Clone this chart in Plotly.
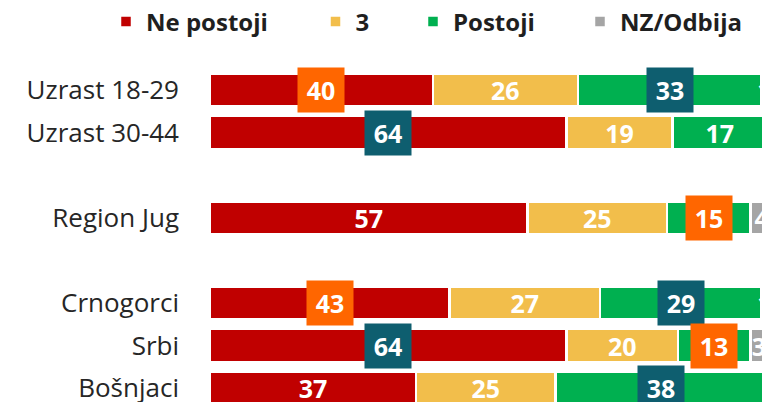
import plotly.graph_objects as go

# ---- data ----
categories = ["Uzrast 18-29", "Uzrast 30-44", "Region Jug", "Crnogorci", "Srbi", "Bošnjaci"]
row_order = ["Uzrast 18-29", "Uzrast 30-44", " ", "Region Jug", "  ", "Crnogorci", "Srbi", "Bošnjaci"]
series_names = ["Ne postoji", "3", "Postoji", "NZ/Odbija"]
ne_postoji = [40, 64, 57, 43, 64, 37]
tri = [26, 19, 25, 27, 20, 25]
postoji = [33, 17, 15, 29, 13, 38]
nz_odbija = [1, 1, 4, 1, 3, 0]

# highlighted labels (series, category) -> box colour
ORANGE = "#FF6600"
TEAL = "#0E5E6F"
highlight = {
    ("Ne postoji", "Uzrast 18-29"): ORANGE,
    ("Postoji", "Uzrast 18-29"): TEAL,
    ("Ne postoji", "Uzrast 30-44"): TEAL,
    ("Postoji", "Region Jug"): ORANGE,
    ("Ne postoji", "Crnogorci"): ORANGE,
    ("Postoji", "Crnogorci"): TEAL,
    ("Ne postoji", "Srbi"): TEAL,
    ("Postoji", "Srbi"): ORANGE,
    ("Postoji", "Bošnjaci"): TEAL,
}

colors = ["#C00000", "#F2BE4B", "#00B050", "#A5A5A5"]
series_values = [ne_postoji, tri, postoji, nz_odbija]

FONT = "Open Sans"
OFF = 8  # default page body margin
W, H = 770 - OFF, 402 - OFF
ML, MT = 210 - OFF, 60 - OFF
PW, PH = W - ML, H - MT

fig = go.Figure()
annotations = []
cum = [0] * len(categories)
for i, (name, vals, col) in enumerate(zip(series_names, series_values, colors)):
    texts = []
    for j, (cat, v) in enumerate(zip(categories, vals)):
        key = (name, cat)
        if v == 0 or key in highlight:
            texts.append("")
        else:
            texts.append(str(v))
        if key in highlight:
            annotations.append(dict(
                x=cum[j] + v / 2, y=cat, xref="x", yref="y",
                text=f"<b>{v}</b>", showarrow=False,
                font=dict(family=FONT, size=25, color="white"),
                bgcolor=highlight[key], width=46, height=44, borderpad=0,
                xanchor="center", yanchor="middle", align="center", valign="middle",
            ))
        cum[j] += v
    legend_id = "legend" if i == 0 else f"legend{i+1}"
    fig.add_trace(go.Bar(
        name=name, y=categories, x=vals, orientation="h",
        marker=dict(color=col, line=dict(color="white", width=2.5)),
        text=texts, textposition="inside", insidetextanchor="middle",
        constraintext="none", textangle=0,
        textfont=dict(family=FONT, size=25, color="white", weight="bold"),
        legend=legend_id, hoverinfo="skip",
    ))

# legend square centres in window pixels
legend_square_px = [126, 335.5, 433, 600]
legend_common = dict(
    orientation="h", yanchor="middle", xanchor="left",
    y=1 + (MT - (22 - OFF)) / PH, bgcolor="rgba(0,0,0,0)",
    font=dict(family=FONT, size=24, color="#1F1F1F", weight="bold"),
    itemwidth=30, tracegroupgap=0,
)
layout_legends = {}
for i, px in enumerate(legend_square_px):
    key = "legend" if i == 0 else f"legend{i+1}"
    layout_legends[key] = dict(legend_common, x=(px - OFF - 20 - ML) / PW)

row_px = 42.6
r_top = -((90 - OFF) - MT) / row_px
r_bot = r_top + PH / row_px

fig.update_layout(
    width=W, height=H, barmode="stack", bargap=0.23,
    margin=dict(l=ML, r=0, t=MT, b=0, autoexpand=False),
    plot_bgcolor="white", paper_bgcolor="white",
    showlegend=True,
    xaxis=dict(range=[0, 100.5], visible=False, fixedrange=True),
    yaxis=dict(type="category", categoryorder="array", categoryarray=row_order,
               range=[r_bot, r_top], showgrid=False, zeroline=False, showline=False,
               ticks="", ticklabelstandoff=30, automargin=False,
               tickfont=dict(family=FONT, size=26, color="#262626")),
    annotations=annotations,
    **layout_legends,
)

fig.write_html("out.html")
